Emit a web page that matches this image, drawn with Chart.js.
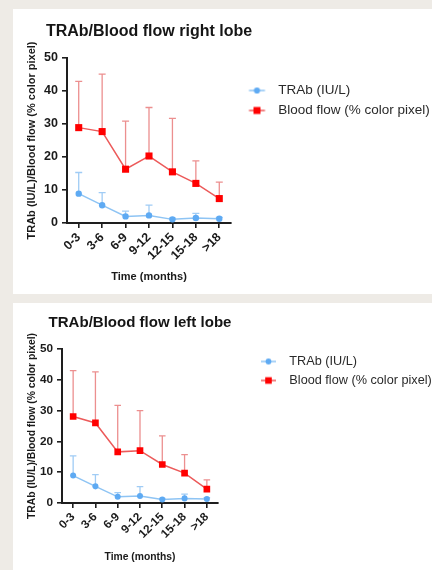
<!DOCTYPE html>
<html><head><meta charset="utf-8">
<script src="https://cdn.jsdelivr.net/npm/chart.js@4.4.1/dist/chart.umd.min.js"></script>
<style>
html,body{margin:0;padding:0;background:#eeebe6;width:432px;height:570px;overflow:hidden;}
.panel{position:absolute;left:13px;background:#fff;}
#p1{top:9px;width:419px;height:285px;}
#p2{top:303px;width:419px;height:267px;}
canvas{display:block;}
</style></head><body>
<div class="panel" id="p1"><canvas id="c1" width="419" height="285"></canvas></div>
<div class="panel" id="p2"><canvas id="c2" width="419" height="267"></canvas></div>
<script>
// ---- data ----
const categories = ['0-3', '3-6', '6-9', '9-12', '12-15', '15-18', '>18'];
const yTicks = [0, 10, 20, 30, 40, 50];
const seriesNames = ['TRAb (IU/L)', 'Blood flow (% color pixel)'];
const chartTitles = ['TRAb/Blood flow right lobe', 'TRAb/Blood flow left lobe'];
const xTitle = 'Time (months)';
const yTitle = 'TRAb (IU/L)/Blood flow (% color pixel)';

const rightTrabMean = [8.9, 5.4, 2.0, 2.3, 1.1, 1.5, 1.3];
const rightTrabSd   = [6.4, 3.8, 1.6, 3.1, 0.4, 1.4, 0.4];
const rightFlowMean = [28.9, 27.7, 16.3, 20.3, 15.5, 12.0, 7.4];
const rightFlowSd   = [14.0, 17.4, 14.6, 14.7, 16.2, 6.8, 5.0];

const leftTrabMean = [8.9, 5.4, 2.0, 2.3, 1.1, 1.5, 1.3];
const leftTrabSd   = [6.4, 3.8, 1.4, 3.0, 0.4, 1.4, 0.4];
const leftFlowMean = [28.1, 26.0, 16.6, 17.0, 12.5, 9.7, 4.5];
const leftFlowSd   = [14.9, 16.6, 15.1, 13.0, 9.3, 6.0, 3.0];

// ---- styles ----
const FONT = "'Liberation Sans', Arial, Helvetica, sans-serif";
Chart.defaults.font.family = FONT;
const BLUE = '#5eaaf3', BLUE_LINE = '#8ec4f4', BLUE_ERR = '#a0ccf5';
const RED = '#ff0000', RED_LINE = '#ec5a5a', RED_ERR = '#ec8f8f';
const AXIS = '#1e1e1e';

function legendIcon(kind, s) {
  const c = document.createElement('canvas');
  c.width = 29; c.height = 10;
  const g = c.getContext('2d');
  g.strokeStyle = kind === 'rect' ? RED_LINE : BLUE_LINE;
  g.lineWidth = 1.5;
  g.beginPath(); g.moveTo(14.5 - 8 * s, 5); g.lineTo(14.5 + 8 * s, 5); g.stroke();
  if (kind === 'rect') {
    g.fillStyle = RED; const h = 3.5 * s; g.fillRect(14.5 - h, 5 - h, 2 * h, 2 * h);
  } else {
    g.fillStyle = BLUE; g.beginPath(); g.arc(14.5, 5, 3.1 * s, 0, Math.PI * 2); g.fill();
  }
  return c;
}

const errorBarPlugin = {
  id: 'errorBars',
  beforeDatasetsDraw(chart, args, opts) {
    const ctx = chart.ctx, y = chart.scales.y;
    chart.data.datasets.forEach((ds, di) => {
      if (!ds.errorBars) return;
      const meta = chart.getDatasetMeta(di);
      ctx.save();
      ctx.strokeStyle = ds.errorColor; ctx.lineWidth = 1.3;
      meta.data.forEach((pt, i) => {
        const top = y.getPixelForValue(ds.data[i] + ds.errorBars[i]);
        ctx.beginPath();
        ctx.moveTo(pt.x, pt.y); ctx.lineTo(pt.x, top);
        ctx.moveTo(pt.x - opts.cap, top); ctx.lineTo(pt.x + opts.cap, top);
        ctx.stroke();
      });
      ctx.restore();
    });
  }
};

const placerPlugin = {
  id: 'placer',
  afterLayout(chart, args, opts) {
    const a = chart.chartArea;
    if (chart.titleBlock) {
      const cx = (a.left + a.right) / 2;
      chart.titleBlock.left = cx - 150; chart.titleBlock.right = cx + 150;
    }
    const lg = chart.legend;
    if (lg) {
      const pad = lg.options.labels.padding, fs = lg.options.labels.font.size;
      const w = lg.width, h = lg.height;
      lg.left = opts.legendX - pad; lg.top = opts.legendY - pad - fs / 2;
      lg.right = lg.left + w + 200; lg.bottom = lg.top + h;
    }
  }
};

function makeChart(id, title, trabMean, trabSd, flowMean, flowSd, L) {
  const s = L.s;
  const icons = [legendIcon('circle', s), legendIcon('rect', s)];
  return new Chart(document.getElementById(id), {
    type: 'line',
    data: {
      labels: categories,
      datasets: [
        { label: seriesNames[0], data: trabMean, errorBars: trabSd, errorColor: BLUE_ERR,
          borderColor: BLUE_LINE, backgroundColor: BLUE, borderWidth: 1.5,
          pointStyle: 'circle', pointRadius: 3.2 * s, pointBackgroundColor: BLUE, pointBorderColor: BLUE, pointBorderWidth: 0,
          tension: 0 },
        { label: seriesNames[1], data: flowMean, errorBars: flowSd, errorColor: RED_ERR,
          borderColor: RED_LINE, backgroundColor: RED, borderWidth: 1.5,
          pointStyle: 'rect', pointRadius: 5 * s, pointBackgroundColor: RED, pointBorderColor: RED, pointBorderWidth: 0,
          tension: 0 }
      ]
    },
    options: {
      responsive: false, animation: false, devicePixelRatio: 1,
      layout: { padding: { left: 0, top: 0, right: L.padRight, bottom: 0 } },
      plugins: {
        title: { display: true, text: title, color: '#151515',
          font: { size: 16 * s, weight: 'bold', family: FONT, lineHeight: 1.2 },
          padding: { top: L.titleTop, bottom: L.titleBottom } },
        legend: { display: true, position: 'chartArea', align: 'start',
          labels: { usePointStyle: true, pointStyleWidth: 29, padding: L.legendPad, color: '#2a2a2a',
            font: { size: 13.5 * s, family: FONT },
            generateLabels(chart) {
              const items = Chart.defaults.plugins.legend.labels.generateLabels(chart);
              items.forEach((it, i) => { it.pointStyle = icons[i]; });
              return items;
            } } },
        tooltip: { enabled: false },
        errorBars: { cap: 3.5 * s },
        placer: { legendX: L.legendX, legendY: L.legendY }
      },
      scales: {
        x: {
          type: 'category', offset: true,
          afterFit(sc) { sc.height = L.xAxisH; },
          grid: { display: true, drawOnChartArea: false, drawTicks: true, tickLength: 5, offset: false, color: AXIS, lineWidth: 1.6 },
          border: { display: true, color: AXIS, width: 2 },
          ticks: { color: '#1a1a1a', font: { size: 12.5 * s, weight: 'bold', family: FONT }, minRotation: 45, maxRotation: 45, padding: 2, autoSkip: false },
          title: { display: true, text: xTitle, color: '#1a1a1a', font: { size: 11 * s, weight: 'bold', family: FONT, lineHeight: 1.2 }, padding: { top: 0, bottom: L.xTitlePad } }
        },
        y: {
          min: 0, max: 50,
          afterFit(sc) { sc.width = L.yAxisW; },
          afterBuildTicks(sc) { sc.ticks = yTicks.map(v => ({ value: v })); },
          grid: { display: true, drawOnChartArea: false, drawTicks: true, tickLength: 5, color: AXIS, lineWidth: 1.6 },
          border: { display: true, color: AXIS, width: 2 },
          ticks: { color: '#1a1a1a', font: { size: 12.5 * s, weight: 'bold', family: FONT }, padding: 4 },
          title: { display: true, text: yTitle, color: '#1a1a1a', font: { size: 11 * s, weight: 'bold', family: FONT, lineHeight: 1.2 }, padding: { top: L.yTitlePad, bottom: 0 } }
        }
      }
    },
    plugins: [errorBarPlugin, placerPlugin]
  });
}

makeChart('c1', chartTitles[0], rightTrabMean, rightTrabSd, rightFlowMean, rightFlowSd, {
  s: 1, padRight: 201, yAxisW: 54, xAxisH: 71, titleTop: 13.4, titleBottom: 16.4,
  xTitlePad: 10.4, yTitlePad: 12.4, legendX: 229.5, legendY: 81.5, legendPad: 6.5
});
makeChart('c2', chartTitles[1], leftTrabMean, leftTrabSd, leftFlowMean, leftFlowSd, {
  s: 0.94, padRight: 214, yAxisW: 49, xAxisH: 67, titleTop: 11, titleBottom: 16.95,
  xTitlePad: 6.8, yTitlePad: 12.8, legendX: 241, legendY: 58.5, legendPad: 6.3
});
</script>
</body></html>
